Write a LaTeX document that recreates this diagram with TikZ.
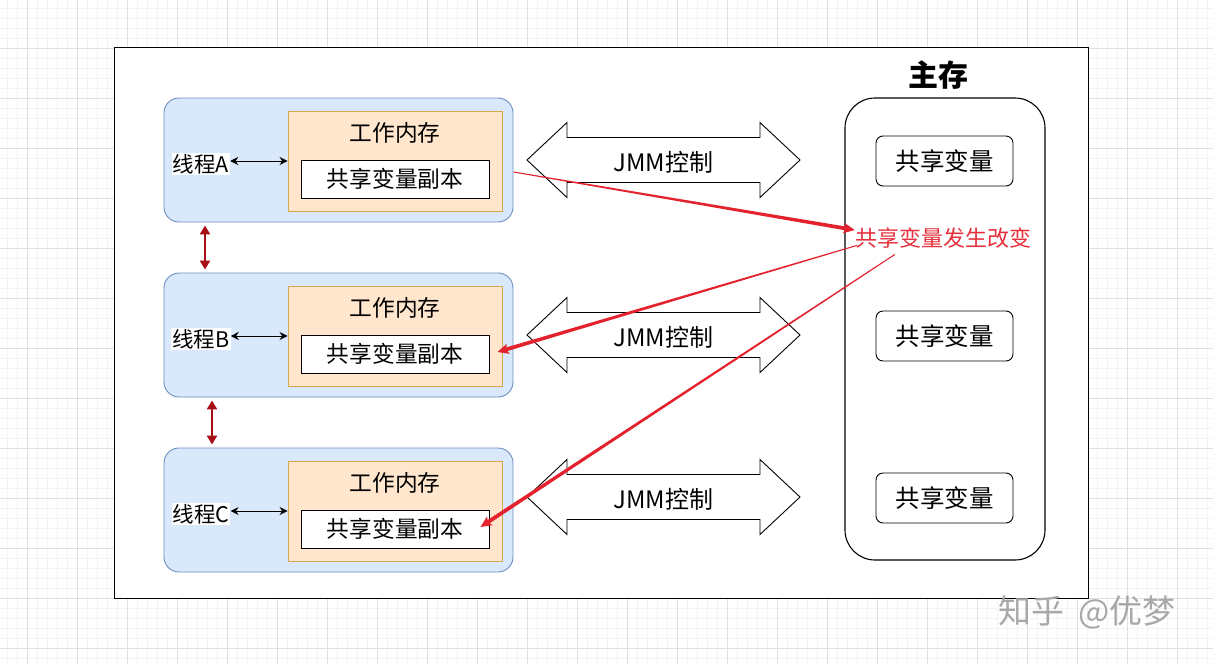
\documentclass[tikz,border=0pt]{standalone}
\usepackage{fontspec}
\setmainfont{Noto Sans CJK SC}
\usetikzlibrary{arrows.meta,calc}
\definecolor{bluefill}{HTML}{DAE8FC}
\definecolor{bluedraw}{HTML}{6C8EBF}
\definecolor{orfill}{HTML}{FFE6CC}
\definecolor{ordraw}{HTML}{D6A84B}
\definecolor{arrred}{HTML}{E3222D}
\definecolor{txtred}{HTML}{E6303C}
\definecolor{darkred}{HTML}{A50F15}
\definecolor{gridminor}{HTML}{F3F3F3}
\definecolor{gridmajor}{HTML}{E0E0E0}
\definecolor{wmgray}{HTML}{A8A8A8}
\begin{document}
\begin{tikzpicture}[x=1pt,y=-1pt,
  threadbox/.style={draw=bluedraw, fill=bluefill, line width=0.9pt, rounded corners=15pt,
    minimum width=349pt, minimum height=124pt, inner sep=0pt},
  workbox/.style={draw=ordraw, fill=orfill, line width=0.9pt,
    minimum width=214pt, minimum height=100pt, inner sep=0pt},
  copybox/.style={draw=black, fill=white, line width=0.9pt,
    minimum width=188pt, minimum height=38pt, inner sep=0pt, font=\fontsize{22.7}{26}\selectfont},
  worktitle/.style={font=\fontsize{22.7}{26}\selectfont, inner sep=0pt},
  threadlabel/.style={fill=white, inner sep=1pt, font=\fontsize{21.5}{24}\selectfont},
  jmmtext/.style={font=\fontsize{24}{28}\selectfont, inner sep=0pt},
  jmmshape/.style={draw=black, fill=white, line width=0.9pt, line join=miter},
  varbox/.style={draw=black, fill=white, line width=0.9pt, rounded corners=7pt,
    minimum width=137pt, minimum height=50pt, inner sep=0pt, font=\fontsize{24.5}{28}\selectfont},
  blackarr/.style={{Stealth[length=8pt,width=8pt]}-{Stealth[length=8pt,width=8pt]}, line width=1pt},
  syncarr/.style={{Triangle[length=9pt,width=10pt]}-{Triangle[length=9pt,width=10pt]}, line width=2.4pt, draw=darkred},
]
\useasboundingbox (0,0) rectangle (1213,664);
\fill[white] (0,0) rectangle (1213,664);
% background grid
\foreach \x in {7,17,...,1207} \draw[gridminor, line width=0.6pt] (\x,0) -- (\x,664);
\foreach \y in {8,18,...,658} \draw[gridminor, line width=0.6pt] (0,\y) -- (1213,\y);
\foreach \x in {27,77,...,1207} \draw[gridmajor, line width=0.7pt] (\x,0) -- (\x,664);
\foreach \y in {48,98,...,658} \draw[gridmajor, line width=0.7pt] (0,\y) -- (1213,\y);

% outer frame
\node[draw=black, fill=white, line width=1.3pt, minimum width=974pt, minimum height=551pt,
  inner sep=0pt, anchor=north west] (outer) at (114,47) {};

% threads
\foreach \n/\l/\cy in {A/A/160, B/B/335, C/C/510} {
  \node[threadbox] (th\n) at (338.5,\cy) {};
  \node[workbox] (wk\n) at (395,\cy+1) {};
  \node[worktitle] (wt\n) at (395,\cy-27) {工作内存};
  \node[copybox] (cp\n) at (395,\cy+19) {共享变量副本};
  \node[threadlabel] (lb\n) at (201,\cy+4) {线程\l};
  \coordinate (ya\n) at (0,\cy+1);
  \draw[blackarr] (lb\n.east |- ya\n) -- (wk\n.west |- ya\n);
}

% synchronisation arrows between threads
\coordinate (x1) at (205,0);
\coordinate (x2) at (212,0);
\coordinate (s1a) at (x1 |- thA.south);
\coordinate (s1b) at (x1 |- thB.north);
\draw[syncarr] ($(s1a)+(0,3)$) -- ($(s1b)+(0,-3)$);
\coordinate (s2a) at (x2 |- thB.south);
\coordinate (s2b) at (x2 |- thC.north);
\draw[syncarr] ($(s2a)+(0,3)$) -- ($(s2b)+(0,-3)$);

% JMM arrows
\foreach \n/\cy in {A/160, B/335, C/497} {
  \node[jmmtext] (jmm\n) at (663.5,\cy) {};
  \fill[jmmshape] ($(jmm\n)+(-136.5,0)$) -- ++(40,-37.5) -- ++(0,15) -- ++(193,0) -- ++(0,-15)
    -- ($(jmm\n)+(136.5,0)$) -- ++(-40,37.5) -- ++(0,-15) -- ++(-193,0) -- ++(0,15) -- cycle;
  \node[jmmtext] at ($(jmm\n)+(0,2)$) {JMM控制};
}

% main memory
\node[draw=black, fill=white, line width=1.1pt, rounded corners=30pt,
  minimum width=200pt, minimum height=462pt, inner sep=0pt] (mem) at (945,329) {};
\node[font=\fontsize{30}{34}\selectfont\bfseries, inner sep=0pt] (memlabel) at (938,75) {主存};
\node[varbox] (v1) at (944.5,161) {共享变量};
\node[varbox] (v2) at (944.5,336) {共享变量};
\node[varbox] (v3) at (944.5,498) {共享变量};
\node[text=txtred, font=\fontsize{22}{25}\selectfont, inner sep=0pt] (chg) at (943,238) {共享变量发生改变};

% red change arrows (tapered)
\coordinate (y172) at (0,172);
\coordinate (y230) at (0,230);
\coordinate (r1s) at (thA.east |- y172);
\coordinate (r1e) at (chg.west |- y230);
\coordinate (r2s) at ($(chg.south west)+(2,-3)$);
\coordinate (r2e) at ($(cpB.east)+(8,-2)$);
\coordinate (r3s) at ($(chg.south west)+(40,6)$);
\coordinate (r3e) at ($(cpC.east)+(-9,-2)$);
\foreach \s/\e in {r1s/r1e, r2s/r2e, r3s/r3e} {
  \coordinate (tq) at ($(\e)!9pt!(\s)$);
  \fill[arrred] ($(\s)!0.5pt!90:(tq)$) -- ($(tq)!1.9pt!-90:(\s)$) -- ($(tq)!1.9pt!90:(\s)$)
    -- ($(\s)!0.5pt!-90:(tq)$) -- cycle;
  \draw[arrred, line width=2.6pt, -{Stealth[length=11pt,width=10pt,inset=2pt]}] ($(\e)!12pt!(\s)$) -- (\e);
}

% watermark
\node[text=wmgray, font=\fontsize{33}{36}\selectfont, inner sep=0pt] (wm) at (1087,612) {知乎\hspace{14pt}@优梦};
\end{tikzpicture}
\end{document}
